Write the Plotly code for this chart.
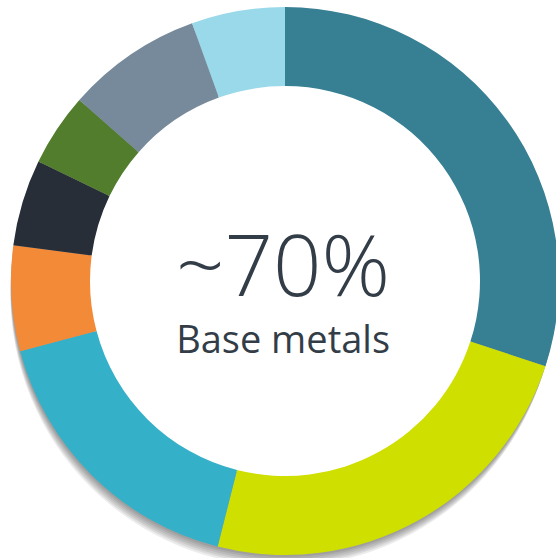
import plotly.graph_objects as go

# Data (clockwise from 12 o'clock)
labels = ["Segment A", "Segment B", "Segment C", "Segment D",
          "Segment E", "Segment F", "Segment G", "Segment H"]
values = [30.0, 23.9, 16.9, 6.2, 5.1, 4.3, 8.0, 5.5]
colors = ["#377f93", "#cfdf00", "#35b0c9", "#f28a38",
          "#272e37", "#517d2d", "#778a9b", "#99d9e9"]
center_value = "~70%"
center_label = "Base metals"

W, H = 570, 590
CX, CY, R = 285, 281, 274
HOLE_R = 195


def dom(cx, cy, r):
    return dict(x=[(cx - r) / W, (cx + r) / W],
                y=[(H - cy - r) / H, (H - cy + r) / H])


fig = go.Figure()

# soft drop shadow (stacked, offset discs)
for i in range(1, 7):
    fig.add_trace(go.Pie(
        values=[1], labels=["shadow"], sort=False,
        marker=dict(colors=["rgba(0,0,0,0.075)"], line=dict(width=0)),
        domain=dom(CX - 0.4 * i, CY + 2.2 * i, R - 0.3 * i),
        textinfo="none", hoverinfo="skip", showlegend=False,
    ))

# white fill behind the hole so the shadow doesn't show through
fig.add_trace(go.Pie(
    values=[1], labels=["hole"], sort=False,
    marker=dict(colors=["#ffffff"], line=dict(width=0)),
    domain=dom(CX, CY, HOLE_R + 2),
    textinfo="none", hoverinfo="skip", showlegend=False,
))

# main donut
fig.add_trace(go.Pie(
    labels=labels, values=values, sort=False, direction="clockwise",
    rotation=0, hole=HOLE_R / R,
    marker=dict(colors=colors, line=dict(width=0)),
    domain=dom(CX, CY, R),
    textinfo="none", hoverinfo="label+percent", showlegend=False,
))

center_text = (
    f"<span style='font-size:85px;font-weight:300'>{center_value}</span>"
    f"<br><span style='font-size:38px'>{center_label}</span>"
)
fig.add_annotation(
    text=center_text, xref="paper", yref="paper",
    x=283 / W, y=1 - 284 / H, xanchor="center", yanchor="middle",
    align="center", showarrow=False,
    font=dict(family="Open Sans", size=44, color="#333d48"),
)

fig.update_layout(
    width=W, height=H,
    margin=dict(l=0, r=0, t=0, b=0),
    paper_bgcolor="white", plot_bgcolor="white",
    showlegend=False,
)

fig.write_html(
    "out.html",
    post_script="document.body.style.margin='0';"
                "document.body.style.overflow='hidden';"
                "document.documentElement.style.overflow='hidden';",
)
